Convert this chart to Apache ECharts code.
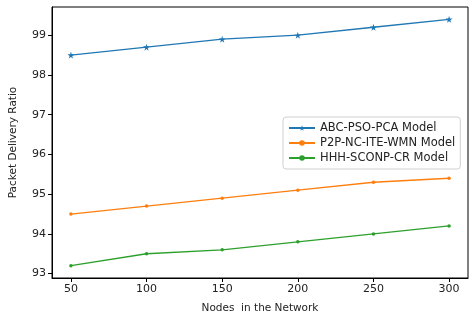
<!DOCTYPE html>
<html><head><meta charset="utf-8">
<script src="https://cdn.jsdelivr.net/npm/echarts@6/dist/echarts.min.js"></script>
<style>html,body{margin:0;padding:0;background:#fff}#c{width:476px;height:319px}</style>
</head><body><div id="c"></div>
<script>
const nodes = [50, 100, 150, 200, 250, 300];
const abc = [98.5, 98.7, 98.9, 99.0, 99.2, 99.4];
const p2p = [94.5, 94.7, 94.9, 95.1, 95.3, 95.4];
const hhh = [93.2, 93.5, 93.6, 93.8, 94.0, 94.2];
const xTicks = [50, 100, 150, 200, 250, 300];
const yTicks = [93, 94, 95, 96, 97, 98, 99];
const names = ['ABC-PSO-PCA Model', 'P2P-NC-ITE-WMN Model', 'HHH-SCONP-CR Model'];

const star = 'path://M50,0 L61,35 L98,35 L68,57 L79,91 L50,70 L21,91 L32,57 L2,35 L39,35 Z';
const font = 'DejaVu Sans';
function pairs(v){ return nodes.map((n,i)=>[n, v[i]]); }
function ser(name, v, color, sym, size){
  return {name, type:'line', data:pairs(v), symbol:sym, symbolSize:size,
    lineStyle:{color, width:1.3}, itemStyle:{color}, animation:false};
}
const chart = echarts.init(document.getElementById('c'), null, {renderer:'canvas'});
chart.setOption({
  animation:false,
  grid:{left:48, right:8, top:7, bottom:40, show:true, borderColor:'#000', borderWidth:1},
  xAxis:{type:'value', min:37.5, max:312.5,
    name:'Nodes  in the Network', nameLocation:'middle', nameGap:25,
    nameTextStyle:{fontFamily:font, fontSize:10.5, color:'#222'},
    axisLine:{lineStyle:{color:'#000'}},
    axisTick:{show:true, length:4, customValues:xTicks, lineStyle:{color:'#000'}},
    axisLabel:{customValues:xTicks, fontFamily:font, fontSize:11, color:'#222', margin:6},
    splitLine:{show:false}},
  yAxis:{type:'value', min:92.89, max:99.71,
    name:'Packet Delivery Ratio', nameLocation:'middle', nameGap:33,
    nameTextStyle:{fontFamily:font, fontSize:10.5, color:'#222'},
    axisLine:{show:true, lineStyle:{color:'#000'}},
    axisTick:{show:true, length:4, customValues:yTicks, lineStyle:{color:'#000'}},
    axisLabel:{customValues:yTicks, fontFamily:font, fontSize:11, color:'#222', margin:6},
    splitLine:{show:false}},
  legend:{orient:'vertical', left:283, top:117, itemWidth:26, itemHeight:7, itemGap:3,
    padding:[5,5,5,5], borderColor:'#d0d0d0', borderWidth:1, borderRadius:3,
    backgroundColor:'#fff',
    textStyle:{fontFamily:font, fontSize:11.5, lineHeight:12, color:'#222'},
    data:names},
  series:[
    ser(names[0], abc, '#1f77b4', star, 7),
    ser(names[1], p2p, '#ff7f0e', 'circle', 3.5),
    ser(names[2], hhh, '#2ca02c', 'circle', 3.5)
  ]
});
</script></body></html>
